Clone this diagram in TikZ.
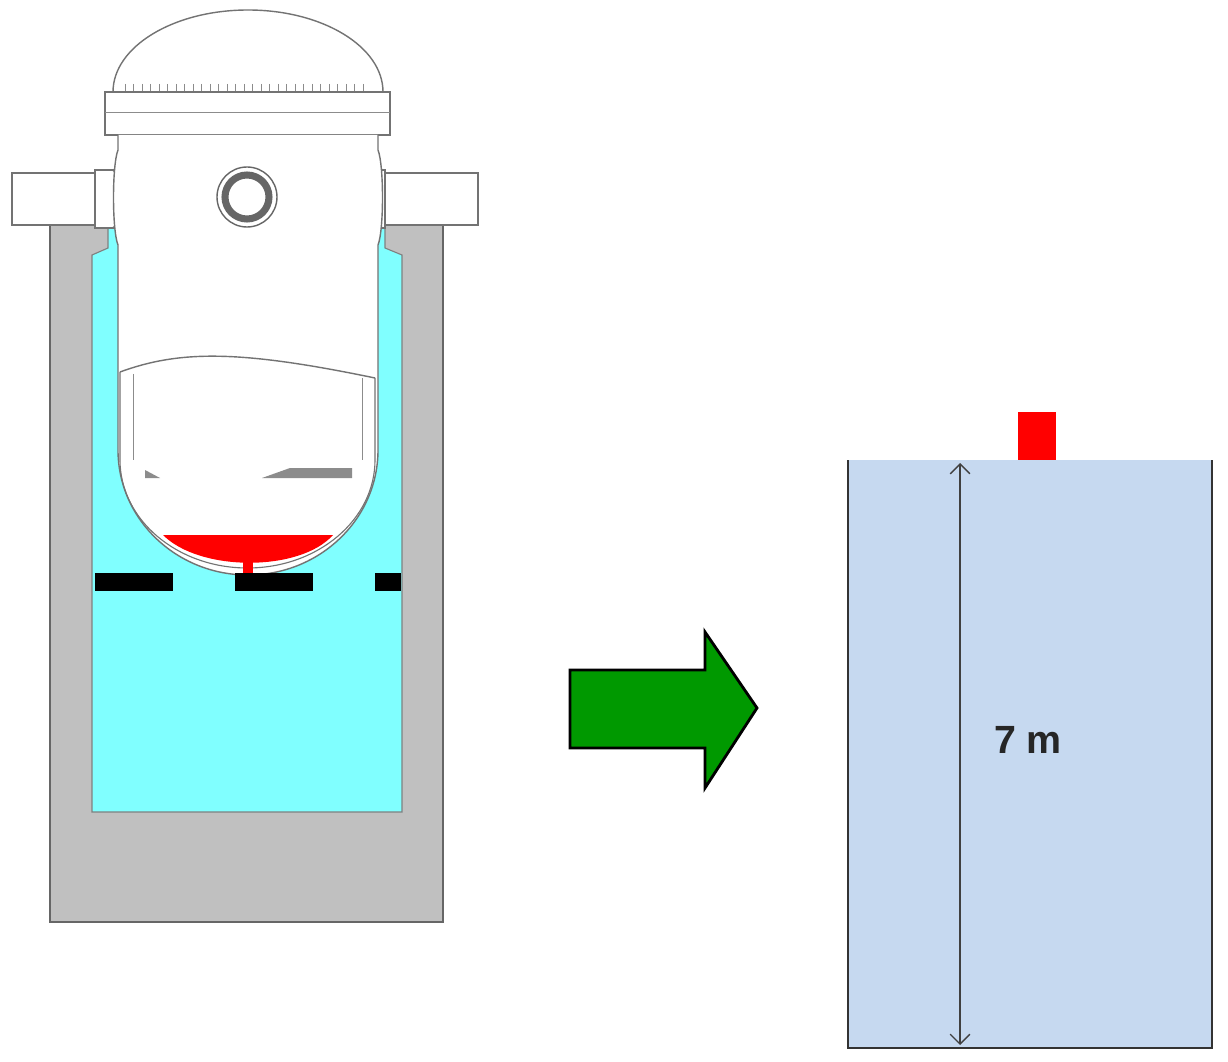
\documentclass[tikz,border=0pt]{standalone}
\usepackage{fontspec}
\setmainfont{Liberation Sans}
\usetikzlibrary{arrows.meta}
\definecolor{pit}{HTML}{C0C0C0}
\definecolor{water}{HTML}{80FFFF}
\definecolor{tank}{HTML}{C6D9F0}
\definecolor{arrowgreen}{HTML}{009900}
\tikzset{
  outline/.style={draw=black!60, line width=1pt},
  vessel/.style={draw=black!55, fill=white, line width=1pt},
}
\begin{document}
\begin{tikzpicture}[x=0.025cm,y=-0.025cm]
\useasboundingbox (0,0) rectangle (1228,1062);
% pit
\fill[pit, outline] (50,225) rectangle (443,922);
\fill[water, draw=black!50, line width=0.8pt] (108,228) -- (385,228) -- (385,248) -- (402,255) -- (402,812) -- (92,812) -- (92,255) -- (108,248) -- cycle;
% pipes
\draw[vessel] (12,173) rectangle (120,225);
\draw[vessel] (350,173) rectangle (478,225);
\draw[vessel] (95,170) rectangle (130,228);
\draw[black!55, line width=1pt] (112,170) arc (270:450:8 and 29);
\draw[vessel] (350,170) rectangle (385,228);
\draw[black!55, line width=1pt] (368,170) arc (270:90:8 and 29);
% dome
\draw[vessel] (113,92) arc (180:360:135 and 82);
\foreach \i in {0,...,28} \draw[black!45] (125+\i*8.5,84) -- (125+\i*8.5,92);
% flange
\draw[vessel] (105,92) rectangle (390,135);
\draw[black!45] (105,112) -- (390,112);
% vessel body
\draw[vessel] (118,135) -- (118,150) .. controls (112,165) and (112,230) .. (118,245) -- (118,450) arc (180:0:130 and 125) -- (378,245) .. controls (384,230) and (384,165) .. (378,150) -- (378,135);
% nozzle
\draw[black!60, line width=1pt, fill=white] (247,197) circle (30);
\draw[black!60, line width=5pt] (247,197) circle (22);
% core barrel
\draw[black!55, line width=1pt] (120,372) .. controls (180,350) and (240,350) .. (375,378);
\draw[black!55, line width=0.8pt] (120,372) -- (120,460) arc (180:0:127.5 and 108) -- (375,378);
\draw[black!45] (133,374) -- (133,460);
\draw[black!45] (362,378) -- (362,460);
\fill[black!45] (145,470) -- (160,478) -- (145,478) -- cycle;
\fill[black!45] (262,478) -- (290,468) -- (352,468) -- (352,478) -- cycle;
% melt
\fill[red] (163,535) .. controls (200,572) and (300,572) .. (333,535) -- cycle;
\fill[red] (243,560) rectangle (253,575);
% dashes
\fill[black] (95,573) rectangle (173,591);
\fill[black] (235,573) rectangle (313,591);
\fill[black] (375,573) rectangle (401,591);
% green arrow
\draw[fill=arrowgreen, line width=2pt] (570,670) -- (705,670) -- (705,632) -- (757,708) -- (705,788) -- (705,748) -- (570,748) -- cycle;
% tank
\fill[tank] (848,460) rectangle (1212,1048);
\draw[black!80, line width=2pt] (848,460) -- (848,1048) -- (1212,1048) -- (1212,460);
\fill[red] (1018,412) rectangle (1056,460);
\draw[black!75, line width=1pt, {Straight Barb[length=7pt]}-{Straight Barb[length=7pt]}] (960,463) -- (960,1045);
\node[font=\bfseries\fontsize{28}{30}\selectfont, text=black!85] (lbl) at (1028,740) {7 m};
\end{tikzpicture}
\end{document}
